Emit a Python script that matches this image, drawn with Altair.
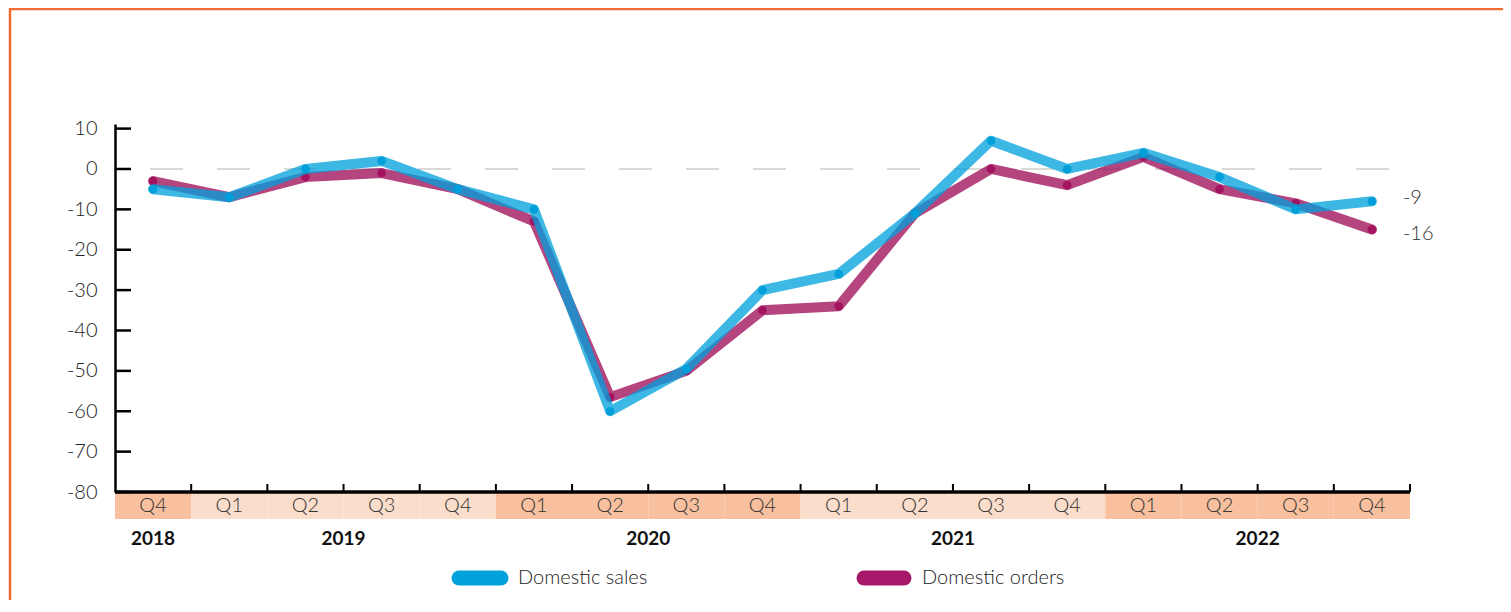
import altair as alt
import pandas as pd

# ---- data ----
quarters = ["Q4", "Q1", "Q2", "Q3", "Q4", "Q1", "Q2", "Q3", "Q4",
            "Q1", "Q2", "Q3", "Q4", "Q1", "Q2", "Q3", "Q4"]
quarter_years = ["2018", "2019", "2019", "2019", "2019", "2020", "2020", "2020", "2020",
                 "2021", "2021", "2021", "2021", "2022", "2022", "2022", "2022"]
years = ["2018", "2019", "2020", "2021", "2022"]
sales = [-5, -7, 0, 2, -5, -10, -60, -49.5, -30, -26, -11, 7, 0, 4, -2, -10, -8]
orders = [-3, -7, -2, -1, -5, -13, -56.5, -50, -35, -34, -11, 0, -4, 3, -5, -8.5, -15]
series_names = ["Domestic sales", "Domestic orders"]
end_labels = ["-9", "-16"]
y_ticks = [10, 0, -10, -20, -30, -40, -50, -60, -70, -80]

# ---- styling ----
FONT = "Lato"
W, H = 1295, 368
BLUE, BLUE_DOT = "#00A0DC", "#009FDA"
PURPLE, PURPLE_DOT = "#9E0B56", "#A3135F"
BAND_DARK, BAND_LIGHT = "#F8C09E", "#FBDDCB"

idx = list(range(len(quarters)))
df = pd.DataFrame({"i": idx, "quarter": quarters, "year": quarter_years,
                   "sales": sales, "orders": orders})
end_sales = pd.DataFrame({"i": [idx[-1]], "v": [sales[-1]], "label": [end_labels[0]]})
end_orders = pd.DataFrame({"i": [idx[-1]], "v": [orders[-1]], "label": [end_labels[1]]})
ticks_df = pd.DataFrame({"t": y_ticks})
bounds_df = pd.DataFrame({"b": [k + 0.5 for k in idx]})
one = pd.DataFrame({"a": [0]})

xs = alt.Scale(domain=[-0.5, len(quarters) - 0.5], nice=False, zero=False)
ys = alt.Scale(domain=[-80, 11.14], nice=False, zero=False)
X = lambda f: alt.X(f, type="quantitative", scale=xs, axis=None)

base = alt.Chart(df)

frame = alt.Chart(one).mark_rect(fill=None, stroke="#F06A32", strokeWidth=2.5).encode(
    x=alt.value(-105), x2=alt.value(4000), y=alt.value(-115), y2=alt.value(4000))

yaxis = alt.Chart(ticks_df).mark_rule(color="black", strokeWidth=2.5).encode(
    y=alt.Y("t:Q", scale=ys,
            axis=alt.Axis(values=y_ticks, ticks=False, domainColor="black", domainWidth=2.5,
                          labelFont=FONT, labelFontSize=20, labelColor="#222",
                          labelFontWeight=300, labelPadding=18, title=None, grid=False,
                          labelExpr="'' + datum.value")),
    x=alt.value(0), x2=alt.value(16))

zero = alt.Chart(one).mark_rule(color="#D9D9D9", strokeWidth=2, strokeDash=[33, 34]).encode(
    y=alt.Y("z:Q", scale=ys),
    x=alt.value(35), x2=alt.value(1275)).transform_calculate(z="0")

bands = base.mark_rect().encode(
    x=alt.X("x0:Q", scale=xs, axis=None), x2="x1:Q",
    y=alt.value(H + 1), y2=alt.value(H + 27),
    color=alt.Color("year:N", scale=alt.Scale(domain=years,
                    range=[BAND_DARK, BAND_LIGHT, BAND_DARK, BAND_LIGHT, BAND_DARK]),
                    legend=None)
).transform_calculate(x0="datum.i - 0.5", x1="datum.i + 0.5")

xline = alt.Chart(one).mark_rule(color="black", strokeWidth=3.5).encode(
    x=alt.value(0), x2=alt.value(W), y=alt.value(H))

xticks = alt.Chart(bounds_df).mark_rule(color="black", strokeWidth=2).encode(
    x=X("b"), y=alt.value(H - 8), y2=alt.value(H))

qlabels = base.mark_text(font=FONT, fontSize=20, fontWeight=300, color="#333",
                         baseline="middle").encode(
    x=X("i"), y=alt.value(H + 14), text="quarter:N")

ylabels = base.mark_text(font=FONT, fontSize=19, fontWeight="bold", color="#111",
                         baseline="middle").encode(
    x=X("mi"), y=alt.value(H + 47), text="year:N"
).transform_aggregate(mi="mean(i)", groupby=["year"])

line_kw = dict(strokeWidth=10, strokeCap="round", strokeJoin="round", opacity=0.76)
orders_line = base.mark_line(color=PURPLE, **line_kw).encode(x=X("i"), y=alt.Y("orders:Q", scale=ys))
orders_pts = base.mark_circle(color=PURPLE_DOT, size=75, opacity=1).encode(
    x=X("i"), y=alt.Y("orders:Q", scale=ys))
sales_line = base.mark_line(color=BLUE, **line_kw).encode(x=X("i"), y=alt.Y("sales:Q", scale=ys))
sales_pts = base.mark_circle(color=BLUE_DOT, size=75, opacity=1).encode(
    x=X("i"), y=alt.Y("sales:Q", scale=ys))

txt_kw = dict(font=FONT, fontSize=20, fontWeight=300, color="#333",
              align="left", baseline="middle", dx=31)
end_text_s = alt.Chart(end_sales).mark_text(dy=-3, **txt_kw).encode(
    x=X("i"), y=alt.Y("v:Q", scale=ys), text="label:N")
end_text_o = alt.Chart(end_orders).mark_text(dy=4, **txt_kw).encode(
    x=X("i"), y=alt.Y("v:Q", scale=ys), text="label:N")

LY = 454
leg_sales_sw = alt.Chart(one).mark_rule(color=BLUE, strokeWidth=15, strokeCap="round").encode(
    x=alt.value(344), x2=alt.value(386), y=alt.value(LY))
leg_sales_tx = alt.Chart(pd.DataFrame({"n": [series_names[0]]})).mark_text(
    font=FONT, fontSize=20, fontWeight=300, color="#222", align="left", baseline="middle").encode(
    x=alt.value(403), y=alt.value(LY), text="n:N")
leg_orders_sw = alt.Chart(one).mark_rule(color="#A8186A", strokeWidth=15, strokeCap="round").encode(
    x=alt.value(749), x2=alt.value(789), y=alt.value(LY))
leg_orders_tx = alt.Chart(pd.DataFrame({"n": [series_names[1]]})).mark_text(
    font=FONT, fontSize=20, fontWeight=300, color="#222", align="left", baseline="middle").encode(
    x=alt.value(807), y=alt.value(LY), text="n:N")

chart = alt.layer(
    frame, bands, zero, yaxis, xline, xticks, qlabels, ylabels,
    orders_line, orders_pts, sales_line, sales_pts, end_text_s, end_text_o,
    leg_sales_sw, leg_sales_tx, leg_orders_sw, leg_orders_tx
).properties(
    width=W, height=H,
    autosize=alt.AutoSizeParams(type="none"),
    padding={"left": 107, "top": 116, "right": 93, "bottom": 108},
).configure(background="white", view=alt.ViewConfig(stroke=None))

chart.save("out.html", embed_options={"renderer": "svg", "actions": False})
